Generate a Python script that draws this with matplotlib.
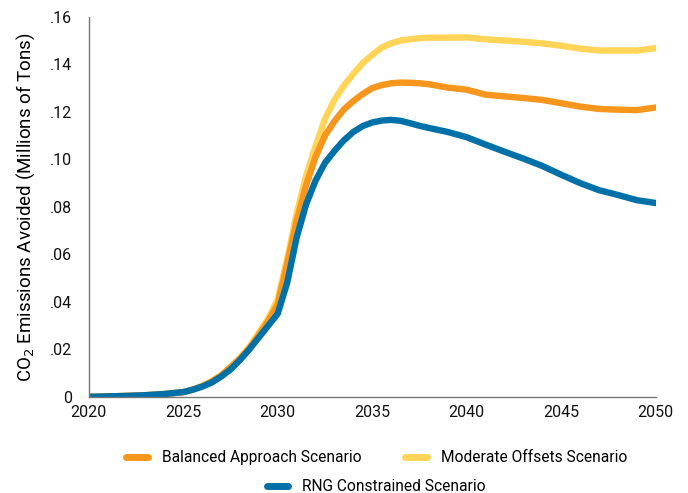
import matplotlib
matplotlib.use("Agg")
import matplotlib.pyplot as plt
from matplotlib.lines import Line2D

plt.rcParams['font.family'] = ['Roboto', 'DejaVu Sans']

# Datos (millones de toneladas); medio año en el tramo de subida
years = [2020, 2021, 2022, 2023, 2024, 2025,
         2025.5, 2026, 2026.5, 2027, 2027.5, 2028, 2028.5, 2029, 2029.5, 2030,
         2030.5, 2031, 2031.5, 2032, 2032.5, 2033, 2033.5, 2034, 2034.5, 2035,
         2035.5, 2036, 2036.5, 2037, 2037.5, 2038,
         2039, 2040, 2041, 2042, 2043, 2044, 2045, 2046, 2047, 2048, 2049, 2050]
balanced = [0, 0.0002, 0.0004, 0.0007, 0.0012, 0.002,
            0.003, 0.0045, 0.0065, 0.009, 0.0125, 0.016, 0.0205, 0.026, 0.032, 0.039,
            0.056, 0.074, 0.089, 0.101, 0.110, 0.116, 0.121, 0.1245, 0.1275, 0.130,
            0.1312, 0.132, 0.1323, 0.1322, 0.132, 0.1316,
            0.1302, 0.1293, 0.1272, 0.1265, 0.1258, 0.1250, 0.1236, 0.1222, 0.1212, 0.1209, 0.1207, 0.1218]
moderate = [0, 0.0002, 0.0004, 0.0007, 0.0012, 0.002,
            0.003, 0.0045, 0.0065, 0.009, 0.0125, 0.0165, 0.021, 0.027, 0.033, 0.041,
            0.058, 0.077, 0.093, 0.1055, 0.117, 0.125, 0.131, 0.136, 0.1405, 0.144,
            0.147, 0.1488, 0.150, 0.1505, 0.151, 0.1512,
            0.1512, 0.1513, 0.1505, 0.1500, 0.1495, 0.1488, 0.1478, 0.1466, 0.1458, 0.1458, 0.1458, 0.1468]
rng = [0, 0.0002, 0.0004, 0.0007, 0.0012, 0.002,
       0.003, 0.0043, 0.006, 0.0085, 0.0115, 0.0155, 0.020, 0.025, 0.030, 0.035,
       0.048, 0.067, 0.081, 0.091, 0.0985, 0.1035, 0.108, 0.1115, 0.114, 0.1155,
       0.1163, 0.1166, 0.1162, 0.1152, 0.1141, 0.1132,
       0.1115, 0.1093, 0.1062, 0.1032, 0.1003, 0.0972, 0.0935, 0.0900, 0.0870, 0.0850, 0.0828, 0.0816]

c_bal = '#F7961D'
c_mod = '#FFD457'
c_rng = '#0070A8'

fig = plt.figure(figsize=(6.88, 4.93), dpi=100)
ax = fig.add_axes([0.129, 0.195, 0.824, 0.771])

estilo = dict(lw=4.6, solid_capstyle='round', solid_joinstyle='round')
ax.plot(years, moderate, color=c_mod, **estilo)
ax.plot(years, balanced, color=c_bal, **estilo)
ax.plot(years, rng, color=c_rng, **estilo)

ax.set_xlim(2020, 2050)
ax.set_ylim(0, 0.16)
ax.set_xticks(range(2020, 2051, 5))
ax.set_yticks([i * 0.02 for i in range(9)])
ax.set_yticklabels(['0'] + [('%.2f' % (i * 0.02))[1:] for i in range(1, 9)])
ax.tick_params(length=0, labelsize=11.5, colors='#111111', pad=6)
ax.tick_params(axis='y', pad=12)

for s in ['top', 'right']:
    ax.spines[s].set_visible(False)
for s in ['left', 'bottom']:
    ax.spines[s].set_color('#777777')
    ax.spines[s].set_linewidth(1)

ax.set_ylabel('CO$_2$ Emissions Avoided (Millions of Tons)', fontsize=13.5, labelpad=9)

h1 = [Line2D([], [], color=c_bal, lw=5, solid_capstyle='round'),
      Line2D([], [], color=c_mod, lw=5, solid_capstyle='round')]
fig.legend(h1, ['Balanced Approach Scenario', 'Moderate Offsets Scenario'],
           loc='center', bbox_to_anchor=(0.547, 0.072), ncol=2, frameon=False,
           fontsize=11.2, handlelength=1.4, handletextpad=0.9, columnspacing=2.8)
h2 = [Line2D([], [], color=c_rng, lw=5, solid_capstyle='round')]
fig.legend(h2, ['RNG Constrained Scenario'], loc='center', bbox_to_anchor=(0.547, 0.013),
           frameon=False, fontsize=11.2, handlelength=1.4, handletextpad=0.9)

fig.savefig('out.png', dpi=100)
